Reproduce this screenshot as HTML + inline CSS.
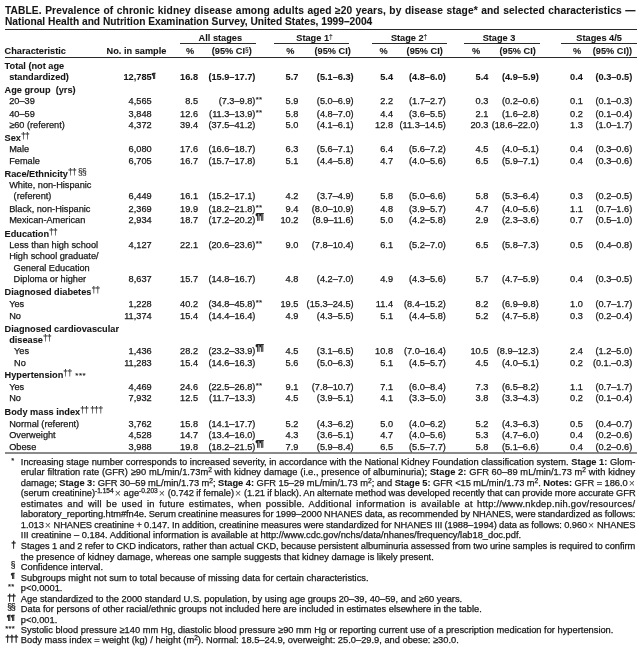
<!DOCTYPE html>
<html lang="en"><head><meta charset="utf-8"><title>TABLE. Prevalence of chronic kidney disease</title>
<style>
html,body{margin:0;padding:0;background:#fff}
body{width:640px;height:649px;position:relative;overflow:hidden;will-change:transform;font-family:"Liberation Sans",Arial,Helvetica,sans-serif;color:#151515}
div{position:absolute;white-space:nowrap;-webkit-text-stroke:0.25px #1a1a1a;font-size:9.2px;line-height:12px}
.b,b{font-weight:bold;-webkit-text-stroke:0.08px #1a1a1a}
.c{text-align:center}
.t{font-weight:bold;-webkit-text-stroke:0.08px #1a1a1a;font-size:10.2px;line-height:11px}
.j{white-space:normal;text-align:justify;text-align-last:justify}
.f{font-size:9.3px;line-height:12px}
.ma{font-size:7.6px;margin-top:-0.9px;letter-spacing:0.3px;margin-right:-0.3px;-webkit-text-stroke:0.15px #1a1a1a}
.md{font-size:8.6px;margin-top:-0.8px;letter-spacing:-0.6px;margin-right:-0.6px;-webkit-text-stroke:0.4px #1a1a1a}
.ms{font-size:8.4px;margin-top:-2.0px;letter-spacing:-0.9px;margin-right:-0.9px}
.mp{font-size:7.6px;margin-top:-2.2px;letter-spacing:-0.2px;margin-right:-0.2px;-webkit-text-stroke:0.4px #1a1a1a}
.r{font-size:0;line-height:0}
sup{font-size:8.4px;line-height:0;vertical-align:baseline;position:relative;top:-2.2px;letter-spacing:-0.55px;font-weight:normal}
sup.p{font-weight:bold;top:-3.6px;letter-spacing:-0.7px}
sup.p1{font-weight:normal;top:-1.9px;font-size:8px;-webkit-text-stroke:0.4px #1a1a1a}
.as{font-size:8px;position:relative;top:-0.5px;font-weight:normal;letter-spacing:0.55px;margin-left:1.2px;-webkit-text-stroke:0.1px #1a1a1a}
sup.hs{font-size:6.6px;top:-2.3px;letter-spacing:0}
sup.n{font-size:6.6px;top:-3.1px;letter-spacing:0}
.x{font-size:10.5px;line-height:0;position:relative;top:0.9px;color:#444;-webkit-text-stroke:0;margin-left:-1.4px;margin-right:0.4px}
.h{position:absolute;left:100%;top:0}
.st{font-size:8px;top:-0.8px;margin-left:0.4px;-webkit-text-stroke:0.1px #1a1a1a;letter-spacing:0.2px}
</style></head>
<body>
<!-- title -->
<div class="t" style="letter-spacing:0.110px;word-spacing:0.522px;left:5px;top:5.00px">TABLE. Prevalence of chronic kidney disease among adults aged ≥20 years, by disease stage* and selected characteristics —</div>
<div class="t" style="left:5px;top:16.00px">National Health and Nutrition Examination Survey, United States, 1999–2004</div>
<!-- rules -->
<div class="r" style="left:4.50px;top:29.00px;width:632.30px;height:1.0px;background:#2a2a2a"></div>
<div class="r" style="left:4.50px;top:57.10px;width:632.30px;height:1.0px;background:#2a2a2a"></div>
<div class="r" style="left:4.50px;top:452.00px;width:632.30px;height:2.0px;background:#8a8a8a"></div>
<div class="r" style="left:179.75px;top:43.20px;width:75.85px;height:1.0px;background:#2a2a2a"></div>
<div class="r" style="left:273.75px;top:43.20px;width:75.25px;height:1.0px;background:#2a2a2a"></div>
<div class="r" style="left:372.25px;top:43.20px;width:75.05px;height:1.0px;background:#2a2a2a"></div>
<div class="r" style="left:464.00px;top:43.20px;width:76.00px;height:1.0px;background:#2a2a2a"></div>
<div class="r" style="left:561.00px;top:43.20px;width:75.80px;height:1.0px;background:#2a2a2a"></div>
<!-- header -->
<div class="b c" style="left:170.30px;width:100px;top:32.00px">All stages</div>
<div class="b c" style="left:264.50px;width:100px;top:32.00px">Stage 1<sup class='hs'>†</sup></div>
<div class="b c" style="left:359.10px;width:100px;top:32.00px">Stage 2<sup class='hs'>†</sup></div>
<div class="b c" style="left:449.00px;width:100px;top:32.00px">Stage 3</div>
<div class="b c" style="left:549.10px;width:100px;top:32.00px">Stages 4/5</div>
<div class="b" style="left:4.60px;top:45.00px">Characteristic</div>
<div class="b" style="left:106.60px;top:45.00px">No. in sample</div>
<div class="b" style="left:186.00px;top:45.00px">%</div>
<div class="b" style="left:286.20px;top:45.00px">%</div>
<div class="b" style="left:379.50px;top:45.00px">%</div>
<div class="b" style="left:472.00px;top:45.00px">%</div>
<div class="b" style="left:572.90px;top:45.00px">%</div>
<div class="b" style="left:211.80px;top:45.00px">(95% CI<sup class='hs'>§</sup>)</div>
<div class="b" style="left:314.50px;top:45.00px">(95% CI)</div>
<div class="b" style="left:406.60px;top:45.00px">(95% CI)</div>
<div class="b" style="left:499.50px;top:45.00px">(95% CI)</div>
<div class="b" style="left:592.80px;top:45.00px">(95% CI))</div>
<!-- body -->
<div class="b" style="left:4.60px;top:60.00px">Total (not age</div>
<div class="b" style="left:9.20px;top:71.00px">standardized)</div>
<div class="b" style="right:488.40px;top:71.00px">12,785<span class="h"><sup class='p1'>¶</sup></span></div>
<div class="b" style="right:442.00px;top:71.00px">16.8</div>
<div class="b" style="right:384.60px;top:71.00px">(15.9–17.7)</div>
<div class="b" style="right:341.70px;top:71.00px">5.7</div>
<div class="b" style="right:286.40px;top:71.00px">(5.1–6.3)</div>
<div class="b" style="right:247.00px;top:71.00px">5.4</div>
<div class="b" style="right:194.20px;top:71.00px">(4.8–6.0)</div>
<div class="b" style="right:151.70px;top:71.00px">5.4</div>
<div class="b" style="right:101.30px;top:71.00px">(4.9–5.9)</div>
<div class="b" style="right:57.20px;top:71.00px">0.4</div>
<div class="b" style="right:7.80px;top:71.00px">(0.3–0.5)</div>
<div class="b" style="left:4.60px;top:84.00px">Age group&nbsp; (yrs)</div>
<div style="left:9.20px;top:95.00px">20–39</div>
<div style="right:488.40px;top:95.00px">4,565</div>
<div style="right:442.00px;top:95.00px">8.5</div>
<div style="right:384.60px;top:95.00px">(7.3–9.8)<span class="h st">**</span></div>
<div style="right:341.70px;top:95.00px">5.9</div>
<div style="right:286.40px;top:95.00px">(5.0–6.9)</div>
<div style="right:247.00px;top:95.00px">2.2</div>
<div style="right:194.20px;top:95.00px">(1.7–2.7)</div>
<div style="right:151.70px;top:95.00px">0.3</div>
<div style="right:101.30px;top:95.00px">(0.2–0.6)</div>
<div style="right:57.20px;top:95.00px">0.1</div>
<div style="right:7.80px;top:95.00px">(0.1–0.3)</div>
<div style="left:9.20px;top:108.00px">40–59</div>
<div style="right:488.40px;top:108.00px">3,848</div>
<div style="right:442.00px;top:108.00px">12.6</div>
<div style="right:384.60px;top:108.00px">(11.3–13.9)<span class="h st">**</span></div>
<div style="right:341.70px;top:108.00px">5.8</div>
<div style="right:286.40px;top:108.00px">(4.8–7.0)</div>
<div style="right:247.00px;top:108.00px">4.4</div>
<div style="right:194.20px;top:108.00px">(3.6–5.5)</div>
<div style="right:151.70px;top:108.00px">2.1</div>
<div style="right:101.30px;top:108.00px">(1.6–2.8)</div>
<div style="right:57.20px;top:108.00px">0.2</div>
<div style="right:7.80px;top:108.00px">(0.1–0.4)</div>
<div style="left:9.20px;top:119.00px">≥60 (referent)</div>
<div style="right:488.40px;top:119.00px">4,372</div>
<div style="right:442.00px;top:119.00px">39.4</div>
<div style="right:384.60px;top:119.00px">(37.5–41.2)</div>
<div style="right:341.70px;top:119.00px">5.0</div>
<div style="right:286.40px;top:119.00px">(4.1–6.1)</div>
<div style="right:247.00px;top:119.00px">12.8</div>
<div style="right:194.20px;top:119.00px">(11.3–14.5)</div>
<div style="right:151.70px;top:119.00px">20.3</div>
<div style="right:101.30px;top:119.00px">(18.6–22.0)</div>
<div style="right:57.20px;top:119.00px">1.3</div>
<div style="right:7.80px;top:119.00px">(1.0–1.7)</div>
<div class="b" style="left:4.60px;top:132.00px">Sex<sup>††</sup></div>
<div style="left:9.20px;top:143.00px">Male</div>
<div style="right:488.40px;top:143.00px">6,080</div>
<div style="right:442.00px;top:143.00px">17.6</div>
<div style="right:384.60px;top:143.00px">(16.6–18.7)</div>
<div style="right:341.70px;top:143.00px">6.3</div>
<div style="right:286.40px;top:143.00px">(5.6–7.1)</div>
<div style="right:247.00px;top:143.00px">6.4</div>
<div style="right:194.20px;top:143.00px">(5.6–7.2)</div>
<div style="right:151.70px;top:143.00px">4.5</div>
<div style="right:101.30px;top:143.00px">(4.0–5.1)</div>
<div style="right:57.20px;top:143.00px">0.4</div>
<div style="right:7.80px;top:143.00px">(0.3–0.6)</div>
<div style="left:9.20px;top:155.00px">Female</div>
<div style="right:488.40px;top:155.00px">6,705</div>
<div style="right:442.00px;top:155.00px">16.7</div>
<div style="right:384.60px;top:155.00px">(15.7–17.8)</div>
<div style="right:341.70px;top:155.00px">5.1</div>
<div style="right:286.40px;top:155.00px">(4.4–5.8)</div>
<div style="right:247.00px;top:155.00px">4.7</div>
<div style="right:194.20px;top:155.00px">(4.0–5.6)</div>
<div style="right:151.70px;top:155.00px">6.5</div>
<div style="right:101.30px;top:155.00px">(5.9–7.1)</div>
<div style="right:57.20px;top:155.00px">0.4</div>
<div style="right:7.80px;top:155.00px">(0.3–0.6)</div>
<div class="b" style="left:4.60px;top:168.00px">Race/Ethnicity<sup>†† §§</sup></div>
<div style="left:9.20px;top:179.00px">White, non-Hispanic</div>
<div style="left:13.60px;top:190.00px">(referent)</div>
<div style="right:488.40px;top:190.00px">6,449</div>
<div style="right:442.00px;top:190.00px">16.1</div>
<div style="right:384.60px;top:190.00px">(15.2–17.1)</div>
<div style="right:341.70px;top:190.00px">4.2</div>
<div style="right:286.40px;top:190.00px">(3.7–4.9)</div>
<div style="right:247.00px;top:190.00px">5.8</div>
<div style="right:194.20px;top:190.00px">(5.0–6.6)</div>
<div style="right:151.70px;top:190.00px">5.8</div>
<div style="right:101.30px;top:190.00px">(5.3–6.4)</div>
<div style="right:57.20px;top:190.00px">0.3</div>
<div style="right:7.80px;top:190.00px">(0.2–0.5)</div>
<div style="left:9.20px;top:203.00px">Black, non-Hispanic</div>
<div style="right:488.40px;top:203.00px">2,369</div>
<div style="right:442.00px;top:203.00px">19.9</div>
<div style="right:384.60px;top:203.00px">(18.2–21.8)<span class="h st">**</span></div>
<div style="right:341.70px;top:203.00px">9.4</div>
<div style="right:286.40px;top:203.00px">(8.0–10.9)</div>
<div style="right:247.00px;top:203.00px">4.8</div>
<div style="right:194.20px;top:203.00px">(3.9–5.7)</div>
<div style="right:151.70px;top:203.00px">4.7</div>
<div style="right:101.30px;top:203.00px">(4.0–5.6)</div>
<div style="right:57.20px;top:203.00px">1.1</div>
<div style="right:7.80px;top:203.00px">(0.7–1.6)</div>
<div style="left:9.20px;top:214.00px">Mexican-American</div>
<div style="right:488.40px;top:214.00px">2,934</div>
<div style="right:442.00px;top:214.00px">18.7</div>
<div style="right:384.60px;top:214.00px">(17.2–20.2)<span class="h"><sup class='p'>¶¶</sup></span></div>
<div style="right:341.70px;top:214.00px">10.2</div>
<div style="right:286.40px;top:214.00px">(8.9–11.6)</div>
<div style="right:247.00px;top:214.00px">5.0</div>
<div style="right:194.20px;top:214.00px">(4.2–5.8)</div>
<div style="right:151.70px;top:214.00px">2.9</div>
<div style="right:101.30px;top:214.00px">(2.3–3.6)</div>
<div style="right:57.20px;top:214.00px">0.7</div>
<div style="right:7.80px;top:214.00px">(0.5–1.0)</div>
<div class="b" style="left:4.60px;top:228.00px">Education<sup>††</sup></div>
<div style="left:9.20px;top:239.00px">Less than high school</div>
<div style="right:488.40px;top:239.00px">4,127</div>
<div style="right:442.00px;top:239.00px">22.1</div>
<div style="right:384.60px;top:239.00px">(20.6–23.6)<span class="h st">**</span></div>
<div style="right:341.70px;top:239.00px">9.0</div>
<div style="right:286.40px;top:239.00px">(7.8–10.4)</div>
<div style="right:247.00px;top:239.00px">6.1</div>
<div style="right:194.20px;top:239.00px">(5.2–7.0)</div>
<div style="right:151.70px;top:239.00px">6.5</div>
<div style="right:101.30px;top:239.00px">(5.8–7.3)</div>
<div style="right:57.20px;top:239.00px">0.5</div>
<div style="right:7.80px;top:239.00px">(0.4–0.8)</div>
<div style="left:9.20px;top:250.00px">High school graduate/</div>
<div style="left:13.60px;top:262.00px">General Education</div>
<div style="left:13.60px;top:273.00px">Diploma or higher</div>
<div style="right:488.40px;top:273.00px">8,637</div>
<div style="right:442.00px;top:273.00px">15.7</div>
<div style="right:384.60px;top:273.00px">(14.8–16.7)</div>
<div style="right:341.70px;top:273.00px">4.8</div>
<div style="right:286.40px;top:273.00px">(4.2–7.0)</div>
<div style="right:247.00px;top:273.00px">4.9</div>
<div style="right:194.20px;top:273.00px">(4.3–5.6)</div>
<div style="right:151.70px;top:273.00px">5.7</div>
<div style="right:101.30px;top:273.00px">(4.7–5.9)</div>
<div style="right:57.20px;top:273.00px">0.4</div>
<div style="right:7.80px;top:273.00px">(0.3–0.5)</div>
<div class="b" style="left:4.60px;top:286.00px">Diagnosed diabetes<sup>††</sup></div>
<div style="left:9.20px;top:298.00px">Yes</div>
<div style="right:488.40px;top:298.00px">1,228</div>
<div style="right:442.00px;top:298.00px">40.2</div>
<div style="right:384.60px;top:298.00px">(34.8–45.8)<span class="h st">**</span></div>
<div style="right:341.70px;top:298.00px">19.5</div>
<div style="right:286.40px;top:298.00px">(15.3–24.5)</div>
<div style="right:247.00px;top:298.00px">11.4</div>
<div style="right:194.20px;top:298.00px">(8.4–15.2)</div>
<div style="right:151.70px;top:298.00px">8.2</div>
<div style="right:101.30px;top:298.00px">(6.9–9.8)</div>
<div style="right:57.20px;top:298.00px">1.0</div>
<div style="right:7.80px;top:298.00px">(0.7–1.7)</div>
<div style="left:9.20px;top:310.00px">No</div>
<div style="right:488.40px;top:310.00px">11,374</div>
<div style="right:442.00px;top:310.00px">15.4</div>
<div style="right:384.60px;top:310.00px">(14.4–16.4)</div>
<div style="right:341.70px;top:310.00px">4.9</div>
<div style="right:286.40px;top:310.00px">(4.3–5.5)</div>
<div style="right:247.00px;top:310.00px">5.1</div>
<div style="right:194.20px;top:310.00px">(4.4–5.8)</div>
<div style="right:151.70px;top:310.00px">5.2</div>
<div style="right:101.30px;top:310.00px">(4.7–5.8)</div>
<div style="right:57.20px;top:310.00px">0.3</div>
<div style="right:7.80px;top:310.00px">(0.2–0.4)</div>
<div class="b" style="left:4.60px;top:323.00px">Diagnosed cardiovascular</div>
<div class="b" style="left:9.20px;top:334.00px">disease<sup>††</sup></div>
<div style="left:14.00px;top:345.00px">Yes</div>
<div style="right:488.40px;top:345.00px">1,436</div>
<div style="right:442.00px;top:345.00px">28.2</div>
<div style="right:384.60px;top:345.00px">(23.2–33.9)<span class="h"><sup class='p'>¶¶</sup></span></div>
<div style="right:341.70px;top:345.00px">4.5</div>
<div style="right:286.40px;top:345.00px">(3.1–6.5)</div>
<div style="right:247.00px;top:345.00px">10.8</div>
<div style="right:194.20px;top:345.00px">(7.0–16.4)</div>
<div style="right:151.70px;top:345.00px">10.5</div>
<div style="right:101.30px;top:345.00px">(8.9–12.3)</div>
<div style="right:57.20px;top:345.00px">2.4</div>
<div style="right:7.80px;top:345.00px">(1.2–5.0)</div>
<div style="left:14.00px;top:357.00px">No</div>
<div style="right:488.40px;top:357.00px">11,283</div>
<div style="right:442.00px;top:357.00px">15.4</div>
<div style="right:384.60px;top:357.00px">(14.6–16.3)</div>
<div style="right:341.70px;top:357.00px">5.6</div>
<div style="right:286.40px;top:357.00px">(5.0–6.3)</div>
<div style="right:247.00px;top:357.00px">5.1</div>
<div style="right:194.20px;top:357.00px">(4.5–5.7)</div>
<div style="right:151.70px;top:357.00px">4.5</div>
<div style="right:101.30px;top:357.00px">(4.0–5.1)</div>
<div style="right:57.20px;top:357.00px">0.2</div>
<div style="right:7.80px;top:357.00px">(0.1.–0.3)</div>
<div class="b" style="left:4.60px;top:369.00px">Hypertension<sup>††</sup> <span class='as'>***</span></div>
<div style="left:9.20px;top:381.00px">Yes</div>
<div style="right:488.40px;top:381.00px">4,469</div>
<div style="right:442.00px;top:381.00px">24.6</div>
<div style="right:384.60px;top:381.00px">(22.5–26.8)<span class="h st">**</span></div>
<div style="right:341.70px;top:381.00px">9.1</div>
<div style="right:286.40px;top:381.00px">(7.8–10.7)</div>
<div style="right:247.00px;top:381.00px">7.1</div>
<div style="right:194.20px;top:381.00px">(6.0–8.4)</div>
<div style="right:151.70px;top:381.00px">7.3</div>
<div style="right:101.30px;top:381.00px">(6.5–8.2)</div>
<div style="right:57.20px;top:381.00px">1.1</div>
<div style="right:7.80px;top:381.00px">(0.7–1.7)</div>
<div style="left:9.20px;top:392.00px">No</div>
<div style="right:488.40px;top:392.00px">7,932</div>
<div style="right:442.00px;top:392.00px">12.5</div>
<div style="right:384.60px;top:392.00px">(11.7–13.3)</div>
<div style="right:341.70px;top:392.00px">4.5</div>
<div style="right:286.40px;top:392.00px">(3.9–5.1)</div>
<div style="right:247.00px;top:392.00px">4.1</div>
<div style="right:194.20px;top:392.00px">(3.3–5.0)</div>
<div style="right:151.70px;top:392.00px">3.8</div>
<div style="right:101.30px;top:392.00px">(3.3–4.3)</div>
<div style="right:57.20px;top:392.00px">0.2</div>
<div style="right:7.80px;top:392.00px">(0.1–0.4)</div>
<div class="b" style="left:4.60px;top:406.00px">Body mass index<sup>†† †††</sup></div>
<div style="left:9.20px;top:418.00px">Normal (referent)</div>
<div style="right:488.40px;top:418.00px">3,762</div>
<div style="right:442.00px;top:418.00px">15.8</div>
<div style="right:384.60px;top:418.00px">(14.1–17.7)</div>
<div style="right:341.70px;top:418.00px">5.2</div>
<div style="right:286.40px;top:418.00px">(4.3–6.2)</div>
<div style="right:247.00px;top:418.00px">5.0</div>
<div style="right:194.20px;top:418.00px">(4.0–6.2)</div>
<div style="right:151.70px;top:418.00px">5.2</div>
<div style="right:101.30px;top:418.00px">(4.3–6.3)</div>
<div style="right:57.20px;top:418.00px">0.5</div>
<div style="right:7.80px;top:418.00px">(0.4–0.7)</div>
<div style="left:9.20px;top:429.00px">Overweight</div>
<div style="right:488.40px;top:429.00px">4,528</div>
<div style="right:442.00px;top:429.00px">14.7</div>
<div style="right:384.60px;top:429.00px">(13.4–16.0)</div>
<div style="right:341.70px;top:429.00px">4.3</div>
<div style="right:286.40px;top:429.00px">(3.6–5.1)</div>
<div style="right:247.00px;top:429.00px">4.7</div>
<div style="right:194.20px;top:429.00px">(4.0–5.6)</div>
<div style="right:151.70px;top:429.00px">5.3</div>
<div style="right:101.30px;top:429.00px">(4.7–6.0)</div>
<div style="right:57.20px;top:429.00px">0.4</div>
<div style="right:7.80px;top:429.00px">(0.2–0.6)</div>
<div style="left:9.20px;top:441.00px">Obese</div>
<div style="right:488.40px;top:441.00px">3,988</div>
<div style="right:442.00px;top:441.00px">19.8</div>
<div style="right:384.60px;top:441.00px">(18.2–21.5)<span class="h"><sup class='p'>¶¶</sup></span></div>
<div style="right:341.70px;top:441.00px">7.9</div>
<div style="right:286.40px;top:441.00px">(5.9–8.4)</div>
<div style="right:247.00px;top:441.00px">6.5</div>
<div style="right:194.20px;top:441.00px">(5.5–7.7)</div>
<div style="right:151.70px;top:441.00px">5.8</div>
<div style="right:101.30px;top:441.00px">(5.1–6.6)</div>
<div style="right:57.20px;top:441.00px">0.4</div>
<div style="right:7.80px;top:441.00px">(0.2–0.6)</div>
<!-- footnotes -->
<div class="f ma" style="right:625.80px;top:456.00px">*</div>
<div class="f" style="letter-spacing:0.001px;word-spacing:0.005px;left:20.8px;top:456.00px">Increasing stage number corresponds to increased severity, in accordance with the National Kidney Foundation classification system. <b>Stage 1:</b> Glom-</div>
<div class="f" style="letter-spacing:0.028px;word-spacing:0.135px;left:20.8px;top:466.00px">erular filtration rate (GFR) ≥90 mL/min/1.73m<sup class='n'>2</sup> with kidney damage (i.e., presence of albuminuria); <b>Stage 2:</b> GFR 60–89 mL/min/1.73 m<sup class='n'>2</sup> with kidney</div>
<div class="f" style="letter-spacing:-0.019px;word-spacing:-0.070px;left:20.8px;top:477.00px">damage; <b>Stage 3:</b> GFR 30–59 mL/min/1.73 m<sup class='n'>2</sup>; <b>Stage 4:</b> GFR 15–29 mL/min/1.73 m<sup class='n'>2</sup>; and <b>Stage 5:</b> GFR &lt;15 mL/min/1.73 m<sup class='n'>2</sup>. <b>Notes:</b> GFR = 186.0 <span class='x'>×</span></div>
<div class="f" style="letter-spacing:-0.033px;word-spacing:-0.145px;left:20.8px;top:487.00px">(serum creatinine)<sup class='n'>-1.154</sup> <span class='x'>×</span> age<sup class='n'>-0.203</sup> <span class='x'>×</span> (0.742 if female) <span class='x'>×</span> (1.21 if black). An alternate method was developed recently that can provide more accurate GFR</div>
<div class="f" style="letter-spacing:0.254px;word-spacing:1.545px;left:20.8px;top:498.00px">estimates and will be used in future estimates, when possible. Additional information is available at http://www.nkdep.nih.gov/resources/</div>
<div class="f" style="letter-spacing:-0.049px;word-spacing:-0.301px;left:20.8px;top:508.00px">laboratory_reporting.htm#fn4e. Serum creatinine measures for 1999–2000 NHANES data, as recommended by NHANES, were standardized as follows:</div>
<div class="f" style="letter-spacing:-0.050px;word-spacing:-0.229px;left:20.8px;top:519.00px">1.013 <span class='x'>×</span> NHANES creatinine + 0.147. In addition, creatinine measures were standardized for NHANES III (1988–1994) data as follows: 0.960 <span class='x'>×</span> NHANES</div>
<div class="f" style="left:20.8px;top:529.00px">III creatinine – 0.184. Additional information is available at http://www.cdc.gov/nchs/data/nhanes/frequency/lab18_doc.pdf.</div>
<div class="f md" style="right:625.20px;top:540.00px">†</div>
<div class="f" style="letter-spacing:-0.033px;word-spacing:-0.142px;left:20.8px;top:540.00px">Stages 1 and 2 refer to CKD indicators, rather than actual CKD, because persistent albuminuria assessed from two urine samples is required to confirm</div>
<div class="f" style="left:20.8px;top:551.00px">the presence of kidney damage, whereas one sample suggests that kidney damage is likely present.</div>
<div class="f ms" style="right:626.30px;top:561.00px">§</div>
<div class="f" style="left:20.8px;top:561.00px">Confidence interval.</div>
<div class="f mp" style="right:625.60px;top:572.00px">¶</div>
<div class="f" style="left:20.8px;top:572.00px">Subgroups might not sum to total because of missing data for certain characteristics.</div>
<div class="f ma" style="right:625.70px;top:582.00px">**</div>
<div class="f" style="left:20.8px;top:582.00px">p&lt;0.0001.</div>
<div class="f md" style="right:625.10px;top:593.00px">††</div>
<div class="f" style="left:20.8px;top:593.00px">Age standardized to the 2000 standard U.S. population, by using age groups 20–39, 40–59, and ≥60 years.</div>
<div class="f ms" style="right:626.10px;top:603.00px">§§</div>
<div class="f" style="left:20.8px;top:603.00px">Data for persons of other racial/ethnic groups not included here are included in estimates elsewhere in the table.</div>
<div class="f mp" style="right:625.60px;top:614.00px">¶¶</div>
<div class="f" style="left:20.8px;top:614.00px">p&lt;0.001.</div>
<div class="f ma" style="right:625.20px;top:624.00px">***</div>
<div class="f" style="left:20.8px;top:624.00px">Systolic blood pressure ≥140 mm Hg, diastolic blood pressure ≥90 mm Hg or reporting current use of a prescription medication for hypertension.</div>
<div class="f md" style="right:622.70px;top:634.00px">†††</div>
<div class="f" style="left:20.8px;top:634.00px">Body mass index = weight (kg) / height (m<sup class='n'>2</sup>). Normal: 18.5–24.9, overweight: 25.0–29.9, and obese: ≥30.0.</div>
</body></html>
